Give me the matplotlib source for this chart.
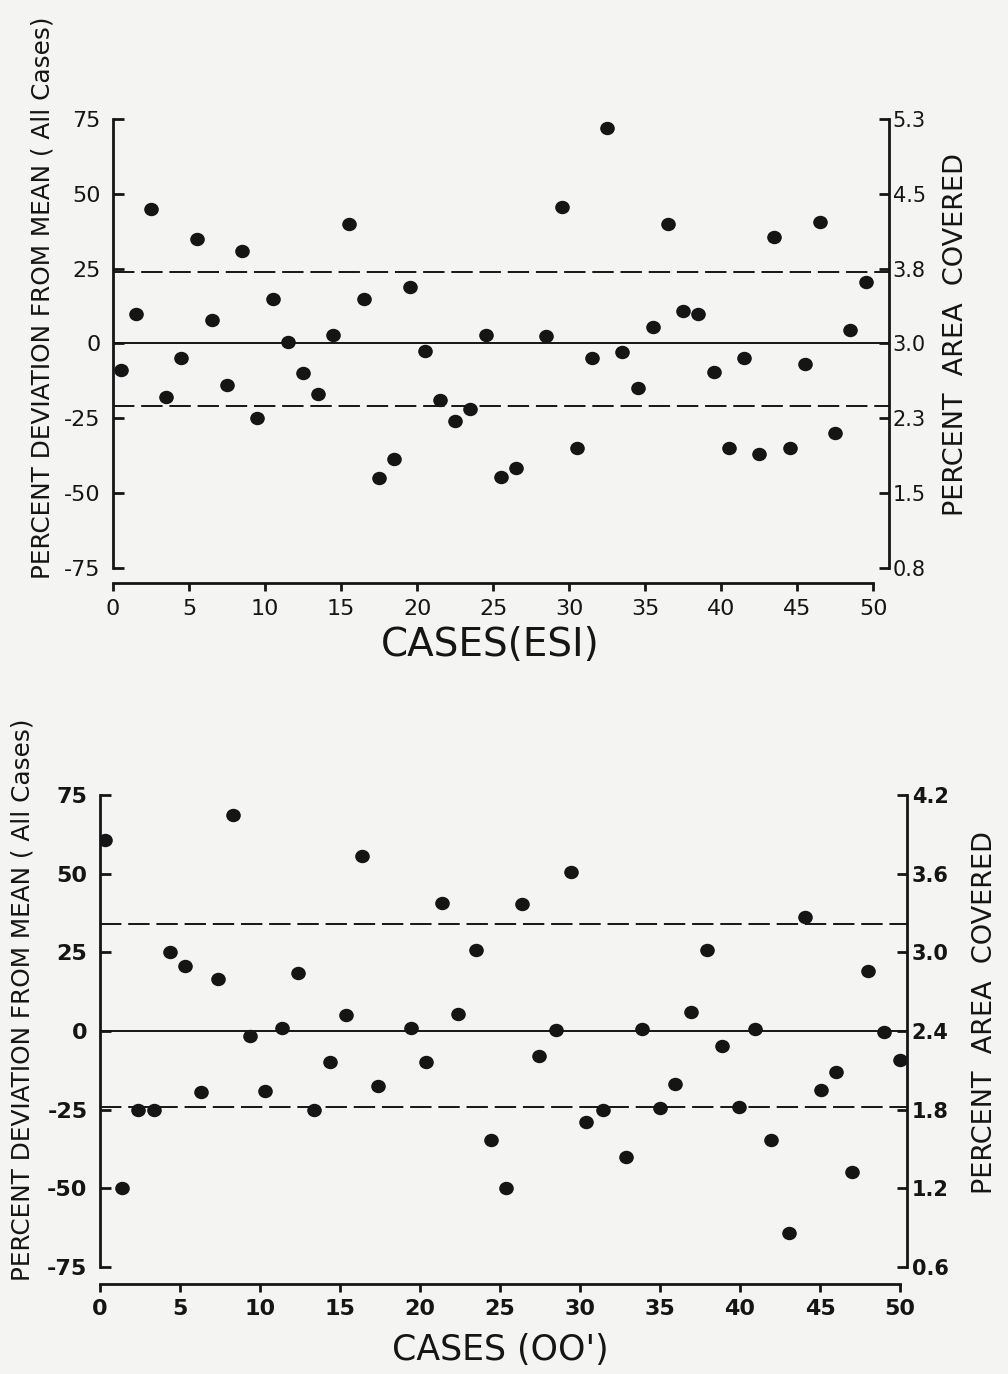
import numpy as np
import matplotlib
matplotlib.use("Agg")
from matplotlib import pyplot as plt
from matplotlib.path import Path
from matplotlib.transforms import Affine2D

#top panel - ESI cases, percent deviation from the mean of all cases
esi_cases = [0.5, 1.5, 2.5, 3.5, 4.5, 5.5, 6.5, 7.5, 8.5, 9.5,
             10.5, 11.5, 12.5, 13.5, 14.5, 15.5, 16.5, 17.5, 18.5, 19.5,
             20.5, 21.5, 22.5, 23.5, 24.5, 25.5, 26.5, 28.5, 29.5,
             30.5, 31.5, 32.5, 33.5, 34.5, 35.5, 36.5, 37.5, 38.5, 39.5,
             40.5, 41.5, 42.5, 43.5, 44.5, 45.5, 46.5, 47.5, 48.5, 49.5]
esi_dev = [-9, 10, 45, -18, -5, 35, 8, -14, 31, -25,
           15, 0.5, -10, -17, 3, 40, 15, -45, -38.5, 19,
           -2.5, -19, -26, -22, 3, -44.5, -41.5, 2.5, 45.5,
           -35, -5, 72, -3, -15, 5.5, 40, 11, 10, -9.5,
           -35, -5, -37, 35.5, -35, -7, 40.5, -30, 4.5, 20.5]
esi_upper = 24
esi_lower = -21

#bottom panel - OO' cases
oo_cases = [0.3, 1.35, 2.35, 3.4, 4.35, 5.3, 6.3, 7.35, 8.3, 9.35,
            10.3, 11.35, 12.35, 13.4, 14.35, 15.35, 16.4, 17.4, 18.4, 19.45,
            20.4, 21.4, 22.4, 23.5, 24.45, 25.4, 26.4, 27.45, 28.5, 29.45,
            30.4, 31.45, 32.85, 33.9, 35.0, 35.95, 36.95, 37.95, 38.9, 39.95,
            40.95, 41.95, 43.05, 44.05, 45.05, 46.0, 47.0, 48.0, 49.0, 50.0]
oo_dev = [60.8, -50, -25, -25, 25, 20.5, -19.5, 16.5, 68.5, -1.5,
          -19, 0.8, 18.4, -25, -10, 5, 55.5, -17.5, 81, 0.8,
          -10, 40.8, 5.4, 25.7, -34.5, -50, 40.4, -8, 0.4, 50.6,
          -29, -25, -40, 0.6, -24.5, -17, 6, 25.6, -4.7, -24,
          0.7, -34.6, -64.2, 36.2, -18.8, -13, -44.8, 19.1, -0.4, -9.3]
oo_upper = 34
oo_lower = -24

dev_ticks = [75, 50, 25, 0, -25, -50, -75]
esi_area_labels = ['5.3', '4.5', '3.8', '3.0', '2.3', '1.5', '0.8']
oo_area_labels = ['4.2', '3.6', '3.0', '2.4', '1.8', '1.2', '0.6']
case_ticks = [0, 5, 10, 15, 20, 25, 30, 35, 40, 45, 50]

ink = '#151515'
paper = '#f4f4f2'
plt.rcParams['font.family'] = ['DejaVu Sans']

W, H = 1008, 1374
fig = plt.figure(figsize=(W / 100, H / 100), dpi=100, facecolor=paper)

#slightly flattened dot like the photocopied original
dot = Path.unit_circle().transformed(Affine2D().scale(1.1, 1.0))


def panel(px_box, cases, dev, upper, lower, area_labels, xmax, bold, drop):
    l, t, r, b = px_box
    ax = fig.add_axes([l / W, 1 - b / H, (r - l) / W, (b - t) / H])
    ax.set_facecolor('none')
    ax.set_xlim(0, xmax)
    ax.set_ylim(-75, 75)
    ax.plot(cases, dev, linestyle='none', marker=dot, markersize=9.5,
            color=ink, zorder=3)
    ax.axhline(0, color=ink, lw=1.4)
    ax.axhline(upper, color=ink, lw=1.4, linestyle=(0, (11, 3.5)))
    ax.axhline(lower, color=ink, lw=1.4, linestyle=(0, (11, 3.5)))

    for s in ['top', 'right']:
        ax.spines[s].set_visible(False)
    ax.spines['left'].set_linewidth(2)
    ax.spines['bottom'].set_linewidth(2)
    ax.spines['bottom'].set_position(('outward', drop))
    ax.spines['bottom'].set_bounds(0, 50)
    ax.spines['left'].set_color(ink)
    ax.spines['bottom'].set_color(ink)

    weight = 'bold' if bold else 'normal'
    ax.set_yticks(dev_ticks)
    ax.set_yticklabels([str(v) for v in dev_ticks], fontsize=16, weight=weight)
    ax.tick_params(axis='y', direction='in', length=8, width=2, pad=9,
                   colors=ink)
    ax.set_xticks(case_ticks)
    ax.set_xticklabels([str(v) for v in case_ticks], fontsize=16, weight=weight)
    ax.tick_params(axis='x', direction='out', length=6, width=2, pad=5,
                   colors=ink)

    ax2 = ax.twinx()
    ax2.set_ylim(-75, 75)
    for s in ['top', 'left', 'bottom']:
        ax2.spines[s].set_visible(False)
    ax2.spines['right'].set_linewidth(2)
    ax2.spines['right'].set_color(ink)
    ax2.set_yticks(dev_ticks)
    ax2.set_yticklabels(area_labels, fontsize=15, weight=weight)
    ax2.tick_params(axis='y', direction='in', length=7, width=2, pad=3,
                    colors=ink)
    return ax


#top: ESI
panel((113, 119, 888.5, 568), esi_cases, esi_dev, esi_upper, esi_lower,
      esi_area_labels, 51.0, False, 11)
fig.text(43 / W, 1 - 298 / H, 'PERCENT DEVIATION FROM MEAN ( All Cases)',
         rotation=90, ha='center', va='center', fontsize=17.8, color=ink)
fig.text(956 / W, 1 - 335 / H, 'PERCENT  AREA  COVERED', rotation=90,
         ha='center', va='center', fontsize=19.5, color=ink)
fig.text(490 / W, 1 - 645 / H, 'CASES(ESI)', ha='center', va='center',
         fontsize=28, color=ink)

#bottom: OO'
panel((100, 795, 907.5, 1267), oo_cases, oo_dev, oo_upper, oo_lower,
      oo_area_labels, 50.47, True, 12)
fig.text(23 / W, 1 - 1000 / H, 'PERCENT DEVIATION FROM MEAN ( All Cases)',
         rotation=90, ha='center', va='center', fontsize=17.8, color=ink)
fig.text(985 / W, 1 - 1013 / H, 'PERCENT  AREA  COVERED', rotation=90,
         ha='center', va='center', fontsize=19.5, color=ink)
fig.text(500 / W, 1 - 1350 / H, "CASES (OO')", ha='center', va='center',
         fontsize=25, color=ink)

fig.savefig('out.png', dpi=100, facecolor=paper)
